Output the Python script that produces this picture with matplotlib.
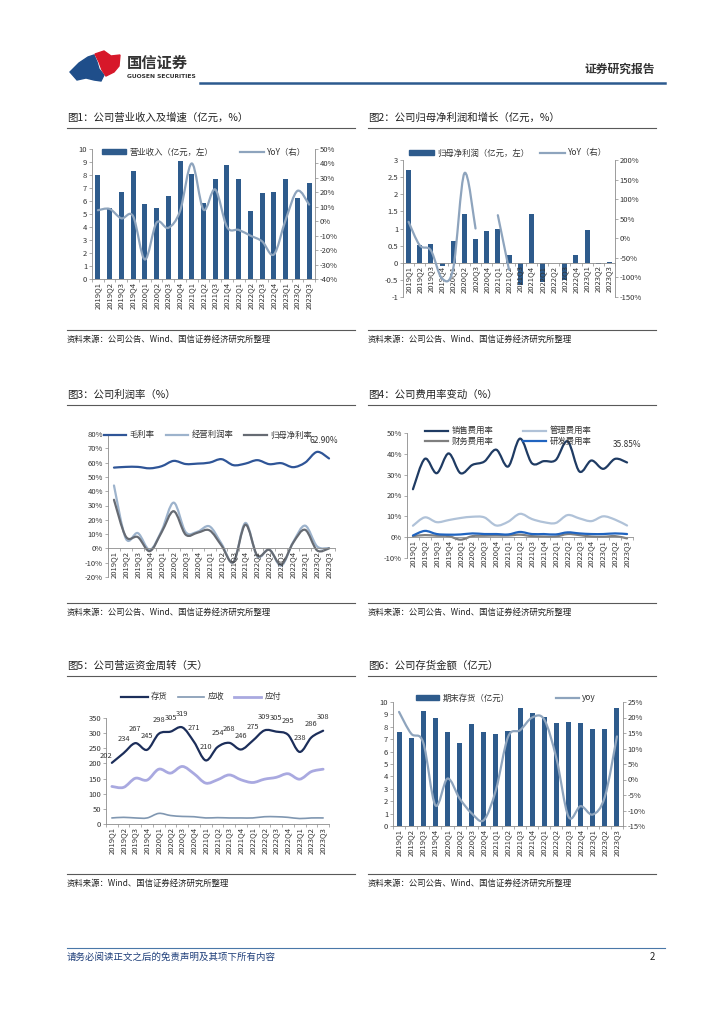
import numpy as np
import matplotlib
matplotlib.use("Agg")
import matplotlib.pyplot as plt
from matplotlib.path import Path
from matplotlib.patches import PathPatch, Patch, Polygon
from matplotlib.lines import Line2D

plt.rcParams['font.family'] = ['Noto Sans CJK SC', 'DejaVu Sans']
plt.rcParams['axes.unicode_minus'] = False

# 数据
quarters = ['2019Q1', '2019Q2', '2019Q3', '2019Q4', '2020Q1', '2020Q2', '2020Q3', '2020Q4',
            '2021Q1', '2021Q2', '2021Q3', '2021Q4', '2022Q1', '2022Q2', '2022Q3', '2022Q4',
            '2023Q1', '2023Q2', '2023Q3']

# 图1 营业收入（亿元）及 YoY（%）
revenue = [8.0, 5.5, 6.7, 8.3, 5.8, 5.45, 6.35, 9.1, 8.1, 5.85, 7.7, 8.8, 7.7, 5.2, 6.6, 6.7, 7.7, 6.25, 7.35]
revenue_yoy = [7.6, 8.5, 2, 3.5, -26.5, -1, -4.6, 7, 40, 8, 22, -4, -6, -10, -14, -23, 1, 21, 11.5]

# 图2 归母净利润（亿元）及 YoY（%）
profit = [2.7, 0.53, 0.56, -0.1, 0.63, 1.42, 0.69, 0.92, 0.98, 0.22, -0.66, 1.42, -0.56, -0.02, -0.5, 0.22, 0.97, -0.03, 0.03]
profit_yoy = [42, -18, -31, -103, -77, 166, 25, np.nan, 59, -80, np.nan, np.nan, np.nan, np.nan,
              np.nan, np.nan, np.nan, np.nan, np.nan]

# 图3 利润率（%）
gross_margin = [56.5, 57, 57, 56, 57.5, 61.2, 59, 59.3, 60, 62.4, 58.2, 59.3, 61.7, 58.9, 59.6, 56.8, 60, 67.5, 62.9]
op_margin = [44, 6.8, 10.7, -1, 12.6, 32, 11.4, 11.7, 15.4, 3.3, -9.6, 17.8, -5.6, -0.7, -12.1, 4.4, 15.9, 1.4, 0.2]
net_margin = [34, 8.2, 7.9, -1.9, 11.5, 26, 9.6, 11, 12.6, 2, -9.6, 16.6, -5, -1, -11.2, 4, 13, -1.4, 0]

# 图4 费用率（%）
sales_exp = [23, 37.6, 30.7, 40.2, 30.7, 34.7, 36.3, 42, 33.9, 47.3, 35.5, 36.5, 37, 46, 31.5, 36.8, 32.8, 37.6, 35.85]
admin_exp = [5.5, 9.5, 7.2, 8.2, 9.2, 9.8, 9.5, 5.6, 7.4, 11.2, 8.7, 7.2, 6.8, 10.6, 9, 7.7, 10, 8.4, 5.6]
fin_exp = [0.5, 1.0, 0.7, 0.5, -1.2, 0.5, 0.7, 0.8, 0.8, 1.2, 0.5, 0.3, 0.3, 1.5, 1.0, 0.3, 0.2, 0.5, -0.6]
rd_exp = [0.8, 3.0, 1.5, 1.2, 1.3, 1.8, 1.5, 1.5, 1.3, 2.5, 1.5, 1.5, 1.3, 2.3, 1.8, 1.5, 1.5, 1.8, 1.5]

# 图5 营运资金周转（天）
inv_days = [202, 234, 267, 245, 298, 305, 319, 271, 210, 254, 268, 246, 275, 309, 305, 295, 238, 286, 308]
rec_days = [20, 22, 20, 20, 35, 28, 25, 24, 20, 21, 20, 20, 20, 24, 24, 22, 18, 20, 20]
pay_days = [124, 121, 151, 145, 181, 168, 190, 166, 135, 146, 162, 146, 137, 148, 154, 166, 148, 173, 181]

# 图6 期末存货（亿元）及 yoy（%）
inventory = [7.59, 7.1, 9.25, 8.74, 7.6, 6.73, 8.23, 7.6, 7.4, 7.64, 9.49, 9.12, 8.77, 8.31, 8.36, 8.34, 7.8, 7.86, 9.49]
inventory_yoy = [21.8, 14.8, 11.9, -8.3, 0.3, -6.1, -10.9, -13.1, -3.4, 13.7, 15.9, 20, 19.3, 6.8, -12, -8.6, -11.3, -5.6, 13.9]

BAR = '#2e5b8c'
YOY = '#8ea4bd'
AXC = '#8c8c8c'
TXT = '#333333'

W, H = 724, 1024
fig = plt.figure(figsize=(W / 100, H / 100), dpi=100)


def add_ax(l, t, r, b):
    return fig.add_axes([l / W, 1 - b / H, (r - l) / W, (b - t) / H])


def ftext(x, y, s, **kw):
    fig.text(x / W, 1 - y / H, s, **kw)


def fline(x0, x1, y, **kw):
    fig.add_artist(Line2D([x0 / W, x1 / W], [1 - y / H, 1 - y / H], transform=fig.transFigure, **kw))


def style_ax(ax, spines=('left', 'bottom')):
    for s in ax.spines:
        ax.spines[s].set_visible(s in spines)
        ax.spines[s].set_color(AXC)
        ax.spines[s].set_linewidth(0.6)
    ax.tick_params(labelsize=5.5, colors=AXC, labelcolor=TXT, length=2, width=0.5, pad=1.5)
    ax.patch.set_visible(False)


def cat_axis(ax):
    n = len(quarters)
    ax.set_xlim(-0.5, n - 0.5)
    ax.set_xticks(np.arange(-0.5, n, 1), [''] * (n + 1))
    ax.set_xticks(np.arange(n), quarters, minor=True)
    ax.tick_params(axis='x', which='minor', length=0, labelsize=5.5, labelrotation=90, pad=2, labelcolor=TXT)
    ax.tick_params(axis='x', which='major', length=2.5, width=0.5, colors=AXC)


def smooth(ax, y, **kw):
    # 平滑曲线（贝塞尔连接各数据点）
    x = np.arange(len(y), dtype=float)
    y = np.asarray(y, dtype=float)
    ok = ~np.isnan(y)
    runs, cur = [], []
    for i in range(len(y)):
        if ok[i]:
            cur.append(i)
        else:
            if cur:
                runs.append(cur)
            cur = []
    if cur:
        runs.append(cur)
    for run in runs:
        if len(run) < 2:
            continue
        pts = np.column_stack([x[run], y[run]])
        verts, codes = [pts[0]], [Path.MOVETO]
        for i in range(len(pts) - 1):
            p0 = pts[i - 1] if i > 0 else pts[i]
            p1, p2 = pts[i], pts[i + 1]
            p3 = pts[i + 2] if i + 2 < len(pts) else pts[i + 1]
            verts += [p1 + (p2 - p0) / 6, p2 - (p3 - p1) / 6, p2]
            codes += [Path.CURVE4] * 3
        ax.add_patch(PathPatch(Path(verts, codes), fill=False, capstyle='round', joinstyle='round', **kw))


def legend_at(ax, handles, labels, x, y, ncol, **kw):
    opts = dict(loc='center', bbox_to_anchor=(x / W, 1 - y / H), bbox_transform=fig.transFigure,
                ncol=ncol, frameon=False, fontsize=6, handlelength=3, handleheight=0.6,
                columnspacing=3, handletextpad=0.4, borderpad=0, labelspacing=0.25)
    opts.update(kw)
    leg = ax.legend(handles, labels, **opts)
    for t in leg.get_texts():
        t.set_color(TXT)
    return leg


pct = lambda vals: [f'{v}%' for v in vals]
x = np.arange(len(quarters))

# ---------- 页眉 ----------
to_fig = lambda pts: [(px / W, 1 - py / H) for px, py in pts]
fig.add_artist(Polygon(to_fig([(70, 72), (79, 63), (88, 57), (94, 55), (97, 62), (99, 69), (104, 75),
                               (101, 81), (94, 80), (86, 78), (77, 80)]),
                       closed=True, color='#1f4e8a', transform=fig.transFigure))
fig.add_artist(Polygon(to_fig([(95, 54), (104, 51), (111, 56), (120, 55), (119, 66), (114, 72),
                               (106, 76), (102, 70), (99, 62)]),
                       closed=True, color='#d7182a', transform=fig.transFigure))
ftext(127, 63, '国信证券', fontsize=11, fontweight='bold', color='#333333', va='center')
ftext(127, 76, 'GUOSEN SECURITIES', fontsize=4.3, fontweight='bold', color='#333333', va='center',
      family=['DejaVu Sans'])
fline(200, 665, 83, color='#2c5a8f', lw=1.8)
ftext(655, 69, '证券研究报告', fontsize=8.5, fontweight='bold', color='#333333', va='center', ha='right')

# ---------- 标题与来源 ----------
titles = [('图1：公司营业收入及增速（亿元，%）', 67, 118), ('图2：公司归母净利润和增长（亿元，%）', 368, 118),
          ('图3：公司利润率（%）', 67, 395), ('图4：公司费用率变动（%）', 368, 395),
          ('图5：公司营运资金周转（天）', 67, 666), ('图6：公司存货金额（亿元）', 368, 666)]
for s, tx, ty in titles:
    ftext(tx, ty, s, fontsize=7.5, color='#222222', va='center')
    fline(tx, tx + 288, ty + 10, color='#595959', lw=0.8)

sources = [('资料来源：公司公告、Wind、国信证券经济研究所整理', 67, 330),
           ('资料来源：公司公告、Wind、国信证券经济研究所整理', 368, 330),
           ('资料来源：公司公告、Wind、国信证券经济研究所整理', 67, 603),
           ('资料来源：公司公告、Wind、国信证券经济研究所整理', 368, 603),
           ('资料来源：Wind、国信证券经济研究所整理', 67, 874),
           ('资料来源：公司公告、Wind、国信证券经济研究所整理', 368, 874)]
for s, sx, sy in sources:
    fline(sx, sx + 288, sy, color='#595959', lw=0.8)
    ftext(sx, sy + 9, s, fontsize=6, color='#222222', va='center')

# ---------- 图1 ----------
ax1 = add_ax(92, 149, 315, 279)
ax1.bar(x, revenue, width=0.43, color=BAR, zorder=1)
ax1.set_ylim(0, 10)
ax1.set_yticks(range(0, 11))
style_ax(ax1, ('left', 'bottom'))
cat_axis(ax1)
ax1r = ax1.twinx()
style_ax(ax1r, ('right',))
ax1r.set_ylim(-40, 50)
ax1r.set_yticks(range(-40, 51, 10), pct(range(-40, 51, 10)))
smooth(ax1r, revenue_yoy, edgecolor=YOY, lw=1.6)
legend_at(ax1r, [Patch(color=BAR), Line2D([], [], color=YOY, lw=1.6)],
          ['营业收入（亿元，左）', 'YoY（右）'], 204, 152, 2, handlelength=2.9, columnspacing=3.2)

# ---------- 图2 ----------
ax2 = add_ax(403, 160, 615, 297)
ax2.bar(x, profit, width=0.45, color=BAR, zorder=1)
ax2.set_ylim(-1, 3)
ax2.set_yticks(np.arange(-1, 3.01, 0.5), ['-1', '-0.5', '0', '0.5', '1', '1.5', '2', '2.5', '3'])
style_ax(ax2, ('left', 'bottom'))
ax2.spines['bottom'].set_position(('data', 0))
cat_axis(ax2)
ax2r = ax2.twinx()
style_ax(ax2r, ('right',))
ax2r.set_ylim(-150, 200)
ax2r.set_yticks(range(-150, 201, 50), pct(range(-150, 201, 50)))
smooth(ax2r, profit_yoy, edgecolor=YOY, lw=1.6)
legend_at(ax2r, [Patch(color=BAR), Line2D([], [], color=YOY, lw=1.6)],
          ['归母净利润（亿元，左）', 'YoY（右）'], 508, 153, 2, handlelength=3.0, columnspacing=1.2)

# ---------- 图3 ----------
ax3 = add_ax(108, 434, 335, 577)
style_ax(ax3, ('left', 'bottom'))
ax3.set_ylim(-20, 80)
ax3.set_yticks(range(-20, 81, 10), pct(range(-20, 81, 10)))
ax3.spines['bottom'].set_position(('data', 0))
cat_axis(ax3)
c_gm, c_op, c_nm = '#2f5597', '#9db3cc', '#666b73'
smooth(ax3, op_margin, edgecolor=c_op, lw=1.6)
smooth(ax3, net_margin, edgecolor=c_nm, lw=1.6)
smooth(ax3, gross_margin, edgecolor=c_gm, lw=1.6)
ax3.annotate(f'{gross_margin[-1]:.2f}%', (x[-1], gross_margin[-1]), xytext=(-4, 10),
             textcoords='offset points', ha='center', va='bottom', fontsize=6, color=TXT)
legend_at(ax3, [Line2D([], [], color=c, lw=1.6) for c in (c_gm, c_op, c_nm)],
          ['毛利率', '经营利润率', '归母净利率'], 208, 435, 3, handlelength=2.7, columnspacing=1.3)

# ---------- 图4 ----------
ax4 = add_ax(407, 433, 633, 558)
style_ax(ax4, ('left', 'bottom'))
ax4.set_ylim(-10, 50)
ax4.set_yticks(range(-10, 51, 10), pct(range(-10, 51, 10)))
ax4.spines['bottom'].set_position(('data', 0))
cat_axis(ax4)
c_s, c_a, c_f, c_r = '#1f3b63', '#b0c2d8', '#7f7f7f', '#2064c0'
smooth(ax4, admin_exp, edgecolor=c_a, lw=1.6)
smooth(ax4, fin_exp, edgecolor=c_f, lw=1.6)
smooth(ax4, rd_exp, edgecolor=c_r, lw=1.6)
smooth(ax4, sales_exp, edgecolor=c_s, lw=1.6)
ax4.annotate(f'{sales_exp[-1]:.2f}%', (x[-1], sales_exp[-1]), xytext=(0, 10),
             textcoords='offset points', ha='center', va='bottom', fontsize=6, color=TXT)
legend_at(ax4, [Line2D([], [], color=c, lw=1.6) for c in (c_s, c_f, c_a, c_r)],
          ['销售费用率', '财务费用率', '管理费用率', '研发费用率'], 508, 436, 2,
          handlelength=2.8, columnspacing=3.5, labelspacing=0.15)

# ---------- 图5 ----------
ax5 = add_ax(106, 718, 329, 824)
style_ax(ax5, ('left', 'bottom'))
ax5.set_ylim(0, 350)
ax5.set_yticks(range(0, 351, 50))
cat_axis(ax5)
c_inv, c_rec, c_pay = '#1c2e5a', '#8097b1', '#a9a9e0'
smooth(ax5, rec_days, edgecolor=c_rec, lw=1.2)
smooth(ax5, pay_days, edgecolor=c_pay, lw=2.0)
smooth(ax5, inv_days, edgecolor=c_inv, lw=1.6)
for i, v in enumerate(inv_days):
    off = (-4, 2.2) if i == 0 else (0, 7)
    ax5.annotate(str(v), (i, v), xytext=off, textcoords='offset points', ha='center',
                 va='bottom', fontsize=5.4, color=TXT, annotation_clip=False)
legend_at(ax5, [Line2D([], [], color=c, lw=w) for c, w in ((c_inv, 1.6), (c_rec, 1.2), (c_pay, 2.0))],
          ['存货', '应收', '应付'], 201, 697, 3, handlelength=3.2, columnspacing=1.2)

# ---------- 图6 ----------
ax6 = add_ax(393, 702, 623, 826)
ax6.bar(x, inventory, width=0.42, color=BAR, zorder=1)
ax6.set_ylim(0, 10)
ax6.set_yticks(range(0, 11))
style_ax(ax6, ('left', 'bottom'))
cat_axis(ax6)
ax6r = ax6.twinx()
style_ax(ax6r, ('right',))
ax6r.set_ylim(-15, 25)
ax6r.set_yticks(range(-15, 26, 5), pct(range(-15, 26, 5)))
smooth(ax6r, inventory_yoy, edgecolor=YOY, lw=1.6)
legend_at(ax6r, [Patch(color=BAR), Line2D([], [], color=YOY, lw=1.6)],
          ['期末存货（亿元）', 'yoy'], 506, 698, 2, handlelength=2.8, columnspacing=5.5)

# ---------- 页脚 ----------
fline(67, 665, 948, color='#4a78a8', lw=0.8)
ftext(67, 957, '请务必阅读正文之后的免责声明及其项下所有内容', fontsize=6.8, color='#1f3f7a',
      va='center', style='italic')
ftext(655, 957, '2', fontsize=7, color='#222222', va='center', ha='right')

fig.savefig('out.png', dpi=100)
